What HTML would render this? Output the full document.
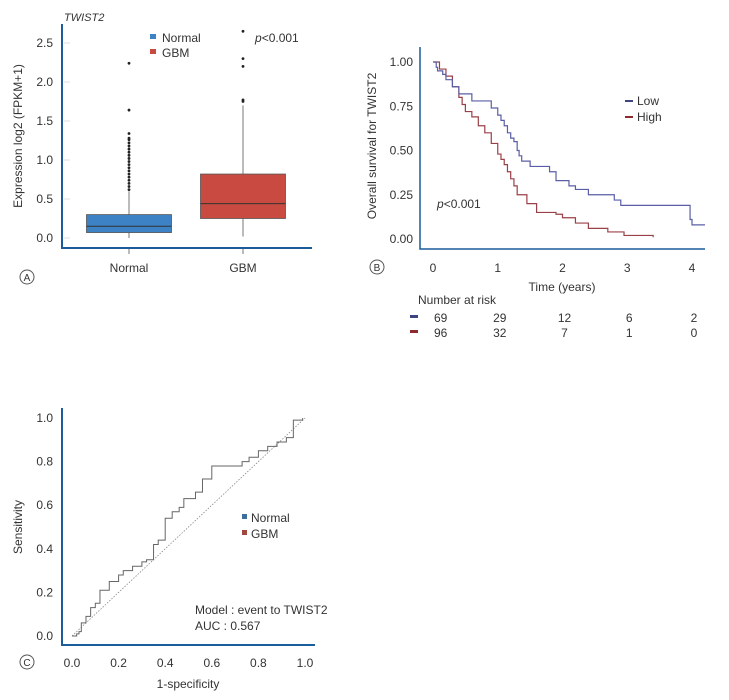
<!DOCTYPE html>
<html><head><meta charset="utf-8"><style>
html,body{margin:0;padding:0;background:#fff;}
svg{display:block;font-family:"Liberation Sans",sans-serif;}
</style></head><body>
<svg id="s" width="729" height="700" viewBox="0 0 729 700" xmlns="http://www.w3.org/2000/svg">
<g id="pa"></g>
<g id="pb"></g>
<g id="pc"></g>
</svg>
<script>
// Panel A data
const boxCategories = ["Normal", "GBM"];
const boxQ1 = [0.07, 0.25];
const boxMedian = [0.15, 0.44];
const boxQ3 = [0.30, 0.82];
const boxWhiskerLow = [0.0, 0.02];
const boxWhiskerHigh = [0.60, 1.70];
const normalOutliers = [0.62,0.66,0.70,0.74,0.78,0.82,0.86,0.90,0.94,0.98,1.02,1.06,1.10,1.14,1.18,1.22,1.26,1.28,1.34,1.64,2.24];
const gbmOutliers = [1.75,1.77,2.20,2.30,2.65];
const boxYTicks = [0.0,0.5,1.0,1.5,2.0,2.5];
// Panel B data
const kmTimeTicks = [0,1,2,3,4];
const kmYTicks = [0,0.25,0.5,0.75,1.0];
const lowTimes = [0,0.05,0.07,0.15,0.2,0.3,0.4,0.6,0.9,1.0,1.05,1.1,1.15,1.2,1.25,1.3,1.33,1.37,1.5,1.8,1.9,2.1,2.2,2.4,2.8,2.9,3.95,3.97,4.0,4.2];
const lowSurv =  [1,0.97,0.95,0.93,0.9,0.86,0.82,0.78,0.74,0.70,0.67,0.64,0.6,0.57,0.55,0.5,0.47,0.44,0.41,0.38,0.33,0.3,0.28,0.25,0.22,0.19,0.19,0.11,0.08,0.08];
const highTimes = [0,0.1,0.2,0.3,0.4,0.45,0.5,0.6,0.7,0.8,0.9,1.0,1.05,1.1,1.15,1.2,1.25,1.3,1.45,1.6,1.9,2.0,2.2,2.4,2.7,2.95,3.4];
const highSurv =  [1,0.96,0.92,0.86,0.8,0.76,0.72,0.69,0.64,0.6,0.54,0.48,0.45,0.42,0.38,0.34,0.3,0.25,0.2,0.15,0.14,0.12,0.09,0.06,0.04,0.02,0.01];
const riskLow = [69,29,12,6,2];
const riskHigh = [96,32,7,1,0];
// Panel C data
const rocFpr = [0,0.02,0.03,0.04,0.06,0.08,0.10,0.12,0.16,0.20,0.22,0.26,0.30,0.32,0.35,0.37,0.40,0.43,0.46,0.48,0.53,0.56,0.60,0.73,0.76,0.80,0.84,0.88,0.92,0.95,0.99];
const rocTpr = [0,0.01,0.02,0.06,0.09,0.13,0.15,0.21,0.25,0.28,0.30,0.32,0.34,0.35,0.42,0.44,0.54,0.57,0.59,0.63,0.66,0.72,0.78,0.80,0.82,0.85,0.87,0.89,0.91,0.99,1.0];
const rocTicks = [0,0.2,0.4,0.6,0.8,1.0];

const NS="http://www.w3.org/2000/svg";
function mk(parent,tag,attrs,text){const e=document.createElementNS(NS,tag);for(const k in attrs)e.setAttribute(k,attrs[k]);if(text!==undefined)e.textContent=text;parent.appendChild(e);return e;}
const AX="#1a5c9c", TX="#333";

// ---------- Panel A ----------
(function(){
const g=document.getElementById('pa');
const ya=v=>238-v*78;
const xc=[129,243], hw=42.5, fills=["#3d82c4","#c84a40"];
let e;
boxYTicks.forEach(t=>{
 e=mk(g,'text',{x:53,y:ya(t)+4,'text-anchor':'end','font-size':12,fill:TX},t.toFixed(1));
 
 
 mk(g,'line',{x1:64,x2:70,y1:ya(t),y2:ya(t),stroke:'#ddd'});
});
boxCategories.forEach((c,i)=>{
 mk(g,'line',{x1:xc[i],x2:xc[i],y1:ya(boxWhiskerLow[i]),y2:ya(boxWhiskerHigh[i]),stroke:'#777','stroke-width':1});
 e=mk(g,'rect',{x:xc[i]-hw,y:ya(boxQ3[i]),width:hw*2,height:ya(boxQ1[i])-ya(boxQ3[i]),fill:fills[i],stroke:'#555','stroke-width':0.8});
 
 
 mk(g,'line',{x1:xc[i]-hw,x2:xc[i]+hw,y1:ya(boxMedian[i]),y2:ya(boxMedian[i]),stroke:'#333','stroke-width':1});
 mk(g,'line',{x1:xc[i],x2:xc[i],y1:248,y2:254,stroke:'#777'});
 e=mk(g,'text',{x:xc[i],y:272,'text-anchor':'middle','font-size':12,fill:TX},c);
 
 
});
normalOutliers.forEach(v=>{e=mk(g,'circle',{cx:xc[0],cy:ya(v),r:1.4,fill:'#222'});
 
 });
gbmOutliers.forEach(v=>{e=mk(g,'circle',{cx:xc[1],cy:ya(v),r:1.4,fill:'#222'});
 
 });
mk(g,'path',{d:'M62 24 V248 H312',fill:'none',stroke:AX,'stroke-width':2});
e=mk(g,'text',{x:64,y:21,'font-size':11,'font-style':'italic',fill:TX},'TWIST2');


e=mk(g,'text',{x:0,y:0,transform:'translate(22,136) rotate(-90)','text-anchor':'middle','font-size':12,fill:TX},'Expression log2 (FPKM+1)');


[["Normal",fills[0],38],["GBM",fills[1],53]].forEach(([n,c,y])=>{
 e=mk(g,'rect',{x:150,y:y-4,width:6,height:5,fill:c});
 
 
 e=mk(g,'text',{x:162,y:y+4,'font-size':12,fill:TX},n);
 
 
});
e=mk(g,'text',{x:255,y:42,'font-size':12,fill:TX});
e.innerHTML='<tspan font-style="italic">p</tspan>&lt;0.001';


mk(g,'circle',{cx:27,cy:277,r:7,fill:'none',stroke:'#555'});
e=mk(g,'text',{x:27,y:281,'text-anchor':'middle','font-size':10,fill:TX},'A');


})();

// ---------- Panel B ----------
(function(){
const g=document.getElementById('pb');
const xb=t=>433+t*64.75, yb=v=>239-v*177;
let e;
kmYTicks.forEach(t=>{
 e=mk(g,'text',{x:413,y:yb(t)+4,'text-anchor':'end','font-size':12,fill:TX},t.toFixed(2));
 
 
});
kmTimeTicks.forEach(t=>{
 e=mk(g,'text',{x:xb(t),y:272,'text-anchor':'middle','font-size':12,fill:TX},String(t));
 
 
});
function step(ts,ss){let d='M'+xb(ts[0])+' '+yb(ss[0]);for(let i=1;i<ts.length;i++){d+=' H'+xb(ts[i])+' V'+yb(ss[i]);}return d;}
e=mk(g,'path',{d:step(highTimes,highSurv),fill:'none',stroke:'#9a4048','stroke-width':1.2});


e=mk(g,'path',{d:step(lowTimes,lowSurv),fill:'none',stroke:'#5a5ea6','stroke-width':1.2});


mk(g,'path',{d:'M420 47 V249 H705',fill:'none',stroke:AX,'stroke-width':1.5});
e=mk(g,'text',{x:0,y:0,transform:'translate(376,146) rotate(-90)','text-anchor':'middle','font-size':12,fill:TX},'Overall survival for TWIST2');


e=mk(g,'text',{x:562,y:291,'text-anchor':'middle','font-size':12,fill:TX},'Time (years)');


[["Low","#3f4580",101],["High","#8c2a30",117]].forEach(([n,c,y])=>{
 e=mk(g,'line',{x1:625,x2:633,y1:y,y2:y,stroke:c,'stroke-width':2});
 
 
 e=mk(g,'text',{x:637,y:y+4,'font-size':12,fill:TX},n);
 
 
});
e=mk(g,'text',{x:437,y:208,'font-size':12,fill:TX});
e.innerHTML='<tspan font-style="italic">p</tspan>&lt;0.001';


e=mk(g,'text',{x:418,y:304,'font-size':12,fill:TX},'Number at risk');


[[riskLow,'#3f4580',318],[riskHigh,'#8c2a30',333]].forEach(([arr,c,y])=>{
 mk(g,'rect',{x:410,y:y-3,width:8,height:3,fill:c});
 arr.forEach((v,i)=>{
  e=mk(g,'text',{x:i===0?434:xb(kmTimeTicks[i])+2,y:y+4,'text-anchor':i===0?'start':'middle','font-size':12,fill:TX},String(v));
  
  
 });
});
mk(g,'circle',{cx:377,cy:267,r:7,fill:'none',stroke:'#555'});
e=mk(g,'text',{x:377,y:271,'text-anchor':'middle','font-size':10,fill:TX},'B');


})();

// ---------- Panel C ----------
(function(){
const g=document.getElementById('pc');
const xr=v=>72+v*233, yr=v=>636-v*218;
let e;
rocTicks.forEach(t=>{
 e=mk(g,'text',{x:53,y:yr(t)+4,'text-anchor':'end','font-size':12,fill:TX},t.toFixed(1));
 
 
 e=mk(g,'text',{x:xr(t),y:667,'text-anchor':'middle','font-size':12,fill:TX},t.toFixed(1));
 
 
});
e=mk(g,'line',{x1:xr(0),y1:yr(0),x2:xr(1),y2:yr(1),stroke:'#888','stroke-width':0.8,'stroke-dasharray':'1.5,1.5'});


let d='M'+xr(rocFpr[0])+' '+yr(rocTpr[0]);
for(let i=1;i<rocFpr.length;i++){d+=' H'+xr(rocFpr[i])+' V'+yr(rocTpr[i]);}
e=mk(g,'path',{d:d,fill:'none',stroke:'#666','stroke-width':1});


mk(g,'path',{d:'M62 408 V645 H315',fill:'none',stroke:AX,'stroke-width':2});
e=mk(g,'text',{x:0,y:0,transform:'translate(22,527) rotate(-90)','text-anchor':'middle','font-size':12,fill:TX},'Sensitivity');


e=mk(g,'text',{x:188,y:688,'text-anchor':'middle','font-size':12,fill:TX},'1-specificity');


[["Normal","#3d6e9c",517],["GBM","#a04840",533]].forEach(([n,c,y])=>{
 e=mk(g,'rect',{x:242,y:y-3,width:5,height:5,fill:c});
 
 
 e=mk(g,'text',{x:251,y:y+5,'font-size':12,fill:TX},n);
 
 
});
e=mk(g,'text',{x:195,y:614,'font-size':12,fill:TX},'Model : event to TWIST2');


e=mk(g,'text',{x:195,y:630,'font-size':12,fill:TX},'AUC : 0.567');


mk(g,'circle',{cx:27,cy:662,r:7,fill:'none',stroke:'#555'});
e=mk(g,'text',{x:27,y:666,'text-anchor':'middle','font-size':10,fill:TX},'C');


})();
</script>
</body></html>
